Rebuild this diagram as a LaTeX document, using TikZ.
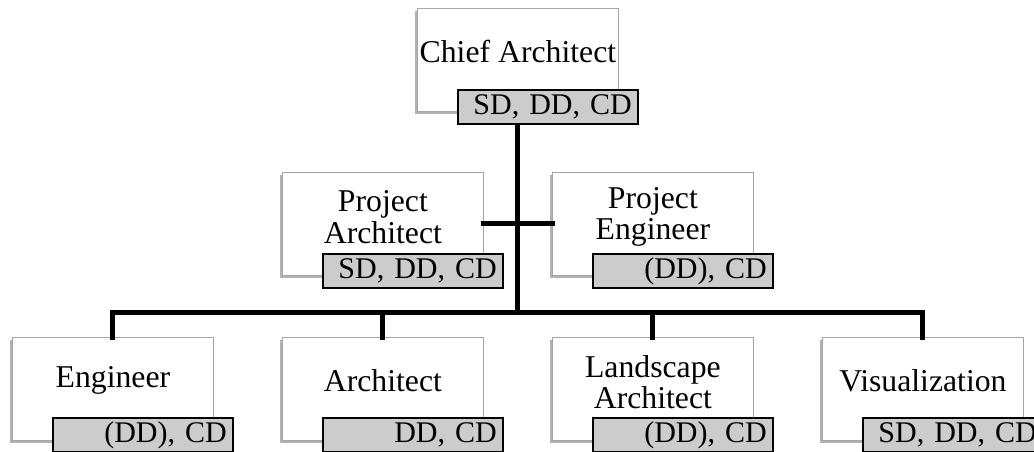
\documentclass[tikz,border=0pt]{standalone}
\usepackage{fontspec}
\setmainfont{Liberation Serif}
\usetikzlibrary{shadows}
\begin{document}
\begin{tikzpicture}[x=0.75pt,y=-0.75pt,
  rolebox/.style={draw=black!35, line width=0.6pt, fill=white, minimum width=150.75pt, minimum height=77.25pt, inner sep=0pt, anchor=north west,
    drop shadow={shadow xshift=-1.5pt, shadow yshift=-1.8pt, fill=black, opacity=0.3}},
  tagbox/.style={draw=black, line width=1.2pt, fill=black!20, text width=126pt, align=right, inner xsep=4.5pt, inner ysep=0pt,
    minimum height=25.5pt, anchor=north west, font=\fontsize{22.5}{24}\selectfont},
  rolelabel/.style={align=center, font=\fontsize{23.8}{23.5}\selectfont, inner sep=0pt},
  bar/.style={line width=3.75pt, line cap=rect}]
\useasboundingbox (0,0) rectangle (1034,452);

% boxes
\node[rolebox] (chief) at (417,8) {};
\node[rolebox] (pa) at (282,172) {};
\node[rolebox] (pe) at (552,172) {};
\node[rolebox] (eng) at (12,337) {};
\node[rolebox] (arc) at (282,337) {};
\node[rolebox] (land) at (552,337) {};
\node[rolebox] (vis) at (822,337) {};

% bus coordinate
\coordinate (bus) at (518,312);

% connectors
\begin{scope}[bar]
\draw (chief.south) -- (chief.south |- bus);
\draw (pa.east) -- (pe.west);
\draw (eng.north) -- (eng.north |- bus) -- (vis.north |- bus) -- (vis.north);
\draw (arc.north) -- (arc.north |- bus);
\draw (land.north) -- (land.north |- bus);
\end{scope}

% labels
\node[rolelabel] (chiefl) at ([yshift=6]chief.center) {Chief Architect};
\node[rolelabel] (pal) at ([yshift=5]pa.center) {Project\\Architect};
\node[rolelabel] (pel) at ([yshift=5]pe.center) {Project\\Engineer};
\node[rolelabel] (engl) at ([yshift=6]eng.center) {Engineer};
\node[rolelabel] (arcl) at ([yshift=6]arc.center) {Architect};
\node[rolelabel] (landl) at ([yshift=5]land.center) {Landscape\\Architect};
\node[rolelabel] (visl) at ([yshift=6]vis.center) {Visualization};

% phase tags
\node[tagbox] (chieft) at ([shift={(40,81)}]chief.north west) {SD, DD, CD};
\node[tagbox] (pat) at ([shift={(40,81)}]pa.north west) {SD, DD, CD};
\node[tagbox] (pet) at ([shift={(40,81)}]pe.north west) {(DD), CD};
\node[tagbox] (engt) at ([shift={(40,80)}]eng.north west) {(DD), CD};
\node[tagbox] (arct) at ([shift={(40,80)}]arc.north west) {DD, CD};
\node[tagbox] (landt) at ([shift={(40,80)}]land.north west) {(DD), CD};
\node[tagbox] (vist) at ([shift={(40,80)}]vis.north west) {SD, DD, CD};
\end{tikzpicture}
\end{document}
